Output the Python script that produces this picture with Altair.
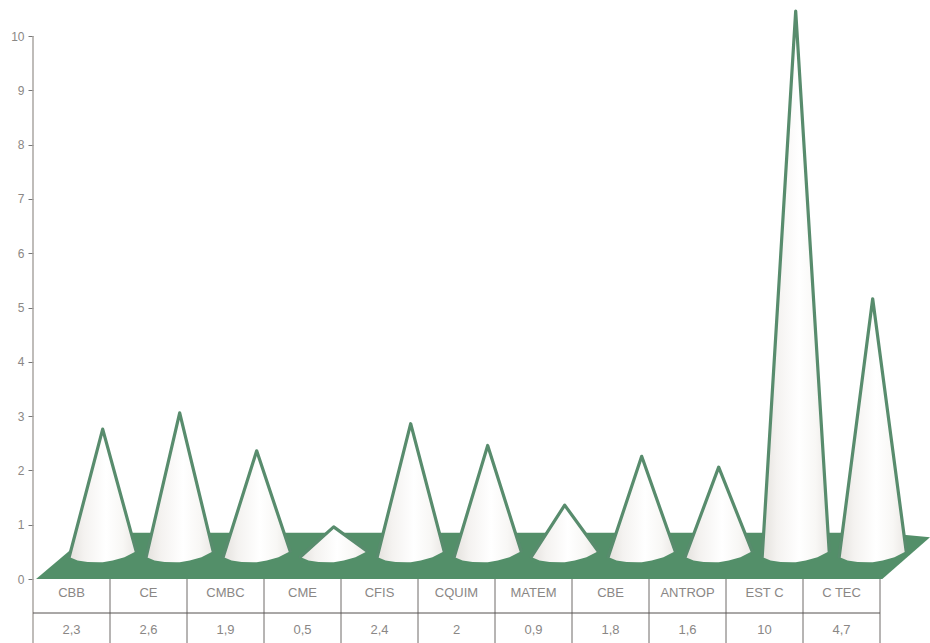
import altair as alt
import numpy as np
import pandas as pd

# Table contents and cone heights
categories = ["CBB", "CE", "CMBC", "CME", "CFIS", "CQUIM", "MATEM", "CBE", "ANTROP", "EST  C", "C TEC"]
values = [2.3, 2.6, 1.9, 0.5, 2.4, 2.0, 0.9, 1.8, 1.6, 10, 4.7]
value_labels = ["2,3", "2,6", "1,9", "0,5", "2,4", "2", "0,9", "1,8", "1,6", "10", "4,7"]
y_ticks = list(range(0, 11))

# Scene geometry in axis units: each cone stands on the floor, set back from its table column
DEPTH_SHIFT = 0.905
FLOOR_LIFT = 0.46
HALF_BASE = 0.435
BASE_DX = [-1.0, -0.75, -0.45, -0.1, 0.3, 0.65, 1.0]
BASE_DY = [-0.055, -0.12, -0.145, -0.15, -0.12, -0.06, 0.05]
CORNER_L, CORNER_R = BASE_DY[0], BASE_DY[-1]

x_scale = alt.Scale(domain=[-33 / 77, 897 / 77], nice=False, zero=False)
y_scale = alt.Scale(domain=[-64 / 54.3, 579 / 54.3], nice=False, zero=False)
x_enc = alt.X("x:Q", scale=x_scale, axis=None)

# The same axis definition on every layer so they merge into one
y_axis = alt.Axis(
    values=y_ticks, offset=-33, domain=False, grid=False, ticks=True, tickSize=5, tickColor="#777777",
    labelColor="#8a8785", labelFont="Liberation Sans", labelFontSize=12, labelPadding=4, title=None,
)


def y_enc(field):
    return alt.Y(field, scale=y_scale, axis=y_axis)


# Floor parallelogram
floor = pd.DataFrame({
    "x": [0.04, 0.75, 11.03, 11.65],
    "top": [0, 0.85, 0.85, 0.77],
    "bottom": [0, 0, 0, 0.77],
})
floor_layer = alt.Chart(floor).mark_area(color="#538f69", interpolate="linear").encode(
    x=x_enc,
    y=y_enc("top:Q"),
    y2="bottom:Q",
)

# Cone silhouettes and outlines
body_rows, edge_rows = [], []
for i, (name, v) in enumerate(zip(categories, values)):
    cx = i + DEPTH_SHIFT
    apex = FLOOR_LIFT + v
    left_top = FLOOR_LIFT + CORNER_L
    right_top = FLOOR_LIFT + CORNER_R
    for dx, dy in zip(BASE_DX + [0.0], BASE_DY + [-0.15]):
        top = np.interp(dx, [-1, 0, 1], [left_top, apex, right_top])
        body_rows.append({"cone": name, "x": cx + dx * HALF_BASE, "top": top, "bottom": FLOOR_LIFT + dy})
    for order, (dx, y) in enumerate([(-1, left_top), (0, apex), (1, right_top)]):
        edge_rows.append({"cone": name, "order": order, "x": cx + dx * HALF_BASE, "y": y})

body = pd.DataFrame(body_rows).sort_values(["cone", "x"])
shade = alt.Gradient(
    gradient="linear", x1=0, x2=1, y1=0, y2=0,
    stops=[
        alt.GradientStop(color="#e4e1dd", offset=0),
        alt.GradientStop(color="#f4f2f0", offset=0.22),
        alt.GradientStop(color="#ffffff", offset=0.55),
        alt.GradientStop(color="#f8f7f5", offset=0.8),
        alt.GradientStop(color="#eae7e4", offset=1),
    ],
)
body_layer = alt.Chart(body).mark_area(fill=shade, interpolate="linear").encode(
    x=x_enc,
    y=y_enc("top:Q"),
    y2="bottom:Q",
    detail="cone:N",
)
edge_layer = alt.Chart(pd.DataFrame(edge_rows)).mark_line(
    color="#588c6d", strokeWidth=3.2, strokeJoin="round", strokeCap="round"
).encode(
    x=x_enc,
    y=y_enc("y:Q"),
    detail="cone:N",
    order="order:Q",
)

# Table below the floor
HEADER_Y = -14 / 54.3
VALUE_Y = -51 / 54.3
RULE_Y = -34 / 54.3
BOTTOM_Y = -64 / 54.3

table_rows = pd.DataFrame({"x": np.arange(1, 12), "y": [0.0] * 11, "y2": [BOTTOM_Y] * 11})
col_lines = alt.Chart(table_rows).mark_rule(color="#6e6a68", strokeWidth=1).encode(
    x=x_enc, y=y_enc("y:Q"), y2="y2:Q"
)
axis_line = alt.Chart(pd.DataFrame({"x": [0], "y": [10], "y2": [BOTTOM_Y]})).mark_rule(
    color="#aaa6a2", strokeWidth=1.5
).encode(x=x_enc, y=y_enc("y:Q"), y2="y2:Q")
row_line = alt.Chart(pd.DataFrame({"x": [0], "x2": [11], "y": [RULE_Y]})).mark_rule(
    color="#55504e", strokeWidth=1
).encode(x=x_enc, x2="x2:Q", y=y_enc("y:Q"))

labels = pd.DataFrame({
    "x": np.arange(11) + 0.5,
    "name": categories,
    "value": value_labels,
    "ny": [HEADER_Y] * 11,
    "vy": [VALUE_Y] * 11,
})
text_style = dict(font="Liberation Sans", fontSize=13, color="#8a8785")
name_layer = alt.Chart(labels).mark_text(**text_style).encode(
    x=x_enc, y=y_enc("ny:Q"), text="name:N"
)
value_layer = alt.Chart(labels).mark_text(**text_style).encode(
    x=x_enc, y=y_enc("vy:Q"), text="value:N"
)

chart = alt.layer(
    floor_layer, axis_line, col_lines, row_line, body_layer, edge_layer, name_layer, value_layer
).properties(
    width=930, height=643, padding=0, autosize=alt.AutoSizeParams(type="none"), background="#ffffff"
).configure_view(stroke=None)

chart.save("out.html", embed_options={"renderer": "svg", "actions": False})
